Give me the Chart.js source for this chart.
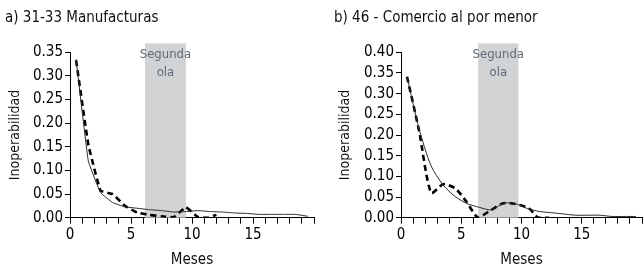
<!DOCTYPE html>
<html>
<head>
<meta charset="utf-8">
<script src="https://cdn.jsdelivr.net/npm/chart.js@4/dist/chart.umd.min.js"></script>
<style>
html,body{margin:0;padding:0;background:#fff;}
#wrap{position:relative;width:644px;height:273px;overflow:hidden;}
.box{position:absolute;top:0;width:322px;height:273px;}
</style>
</head>
<body>
<div id="wrap">
  <div class="box" style="left:0"><canvas id="c1" width="322" height="273"></canvas></div>
  <div class="box" style="left:322px"><canvas id="c2" width="322" height="273"></canvas></div>
</div>
<script>
// ---------- data ----------
const titleA = 'a) 31-33 Manufacturas';
const titleB = 'b) 46 - Comercio al por menor';
const xAxisTitle = 'Meses';
const yAxisTitle = 'Inoperabilidad';
const shadeLabel = ['Segunda', 'ola'];

const xTickLabels = [0, 5, 10, 15];

// panel a
const monthsSolidA = [0.5,1.5,2.5,3.5,4.5,5.5,6.5,7.5,8.5,9.5,10.5,11.5,12.5,13.5,14.5,15.5,16.5,17.5,18.5,19.5];
const solidA = [0.335,0.12,0.053,0.032,0.023,0.02,0.017,0.015,0.012,0.013,0.015,0.013,0.012,0.01,0.009,0.007,0.007,0.007,0.007,0.003];
const monthsDashA = [0.5,1.5,2.5,3.5,4.5,5.5,6.5,7.5,8.5,9.5,10.5,11.3,12.0];
const dashA = [0.333,0.155,0.057,0.05,0.025,0.011,0.006,0.003,0.001,0.022,0.001,0.0,0.006];
const waveA = [6.15, 9.5];
const yMaxA = 0.35;

// panel b
const monthsSolidB = [0.5,1.5,2.5,3.5,4.5,5.5,6.5,7.5,8.5,9.5,10.5,11.5,12.5,13.5,14.5,15.5,16.5,17.5,18.5,19.5];
const solidB = [0.341,0.215,0.125,0.079,0.051,0.034,0.025,0.019,0.035,0.034,0.022,0.015,0.012,0.009,0.006,0.006,0.006,0.003,0.003,0.003];
const monthsDashB = [0.5,1.5,2.5,3.5,4.5,5.4,6.4,7.3,8.5,9.5,10.6,11.4,12.3];
const dashB = [0.341,0.21,0.06,0.081,0.071,0.04,0.0,0.015,0.035,0.033,0.023,0.0,0.0];
const waveB = [6.4, 9.75];
const yMaxB = 0.40;

// ---------- styling ----------
const FONT = "'Liberation Sans Narrow','DejaVu Sans Condensed','Liberation Sans',sans-serif";
Chart.defaults.font.family = FONT;
Chart.defaults.color = '#000';

function pts(xs, ys){ return xs.map((x,i)=>({x:x, y:ys[i]})); }

const shadePlugin = {
  id: 'shade',
  beforeDatasetsDraw(chart, args, opts) {
    const {ctx, chartArea, scales:{x, y}} = chart;
    const x0 = x.getPixelForValue(opts.range[0]);
    const x1 = x.getPixelForValue(opts.range[1]);
    const top = chartArea.top - 9;
    ctx.save();
    ctx.fillStyle = 'rgb(210,211,213)';
    ctx.fillRect(x0, top, x1 - x0, chartArea.bottom - top);
    ctx.fillStyle = '#5f6b78';
    ctx.font = "13px " + FONT;
    ctx.textAlign = 'center';
    ctx.textBaseline = 'middle';
    const cx = (x0 + x1) / 2;
    opts.label.forEach((t, i) => ctx.fillText(t, cx, top + 11 + i * 18));
    ctx.restore();
  }
};

function makeChart(id, title, ms, ss, md, ds, wave, yMax, padLeft, yAxisW, padRight, yTitlePad, tension) {
  return new Chart(document.getElementById(id), {
    type: 'line',
    data: {
      datasets: [
        { data: pts(ms, ss), borderColor: '#2a2a2a', borderWidth: 1, pointRadius: 0, tension: tension, fill: false },
        { data: pts(md, ds), borderColor: '#000', borderWidth: 2.6, borderDash: [6, 4], pointRadius: 0, tension: tension, fill: false }
      ]
    },
    options: {
      responsive: false,
      animation: false,
      events: [],
      layout: { padding: { left: padLeft, right: padRight, top: 0, bottom: 0 } },
      plugins: {
        legend: { display: false },
        tooltip: { enabled: false },
        title: {
          display: true, text: title, align: 'start', color: '#111',
          font: { size: 15, weight: 'normal' },
          padding: { top: 9, bottom: 25.3 }
        },
        shade: { range: wave, label: shadeLabel }
      },
      scales: {
        x: {
          type: 'linear', min: 0, max: 20,
          grid: { drawOnChartArea: false, drawTicks: true, tickLength: 6, color: '#000' },
          border: { display: true, color: '#000', width: 1 },
          ticks: {
            stepSize: 1, autoSkip: false, maxRotation: 0, padding: 2,
            font: { size: 15 }, color: '#000',
            callback: v => xTickLabels.includes(v) ? String(v) : ''
          },
          title: { display: true, text: xAxisTitle, font: { size: 15 }, color: '#111', padding: { top: 0, bottom: 4 } },
          afterFit: s => { s.height = 273 - 217.7; }
        },
        y: {
          type: 'linear', min: 0, max: yMax,
          grid: { drawOnChartArea: false, drawTicks: true, tickLength: 5, color: '#000' },
          border: { display: true, color: '#000', width: 1 },
          ticks: { stepSize: 0.05, autoSkip: false, padding: 2, font: { size: 15 }, color: '#000', callback: v => v.toFixed(2) },
          title: { display: true, text: yAxisTitle, font: { size: 14 }, color: '#111', padding: { top: yTitlePad, bottom: 0 } },
          afterFit: s => { s.width = yAxisW; }
        }
      }
    },
    plugins: [shadePlugin]
  });
}

makeChart('c1', titleA, monthsSolidA, solidA, monthsDashA, dashA, waveA, yMaxA, 5, 65, 8, 1.6, 0.08);
makeChart('c2', titleB, monthsSolidB, solidB, monthsDashB, dashB, waveB, yMaxB, 12, 67, 1.3, 2.6, 0.25);
</script>
</body>
</html>
